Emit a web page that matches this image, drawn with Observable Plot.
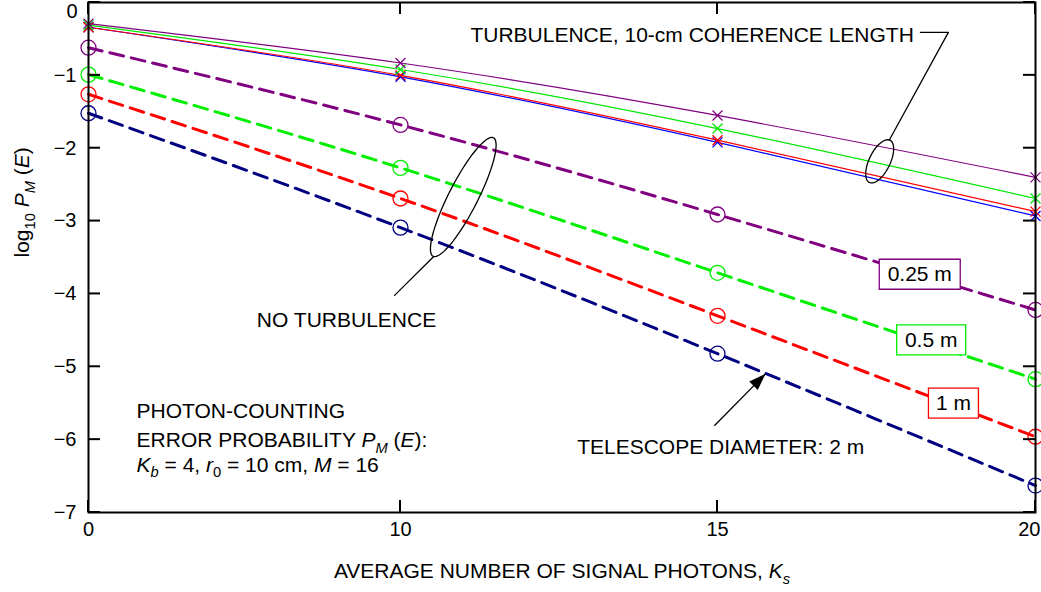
<!DOCTYPE html>
<html>
<head>
<meta charset="utf-8">
<script src="https://cdn.jsdelivr.net/npm/d3@7"></script>
<script src="https://cdn.jsdelivr.net/npm/@observablehq/plot@0.6"></script>
<style>
  html, body { margin: 0; padding: 0; background: #fff; }
  #chart svg { display: block; }
</style>
</head>
<body>
<div id="chart"></div>
<script>
// Average number of signal photons K_s (plotted at uneven spacing, as in the original figure)
const ks = [0, 10, 15, 20];
const xTicks = [0, 10, 15, 20];
const yTicks = [0, -1, -2, -3, -4, -5, -6, -7];
const diameters = ["0.25 m", "0.5 m", "1 m", "2 m"];

// log10 P_M(E) with turbulence (10-cm coherence length) — solid lines, × markers
const turb025 = [-0.29, -0.83, -1.55, -2.40];
const turb05  = [-0.31, -0.92, -1.73, -2.69];
const turb1   = [-0.34, -1.00, -1.89, -2.87];
const turb2   = [-0.34, -1.02, -1.92, -2.93];

// log10 P_M(E) without turbulence — dashed lines, ○ markers
const clear025 = [-0.62, -1.68, -2.91, -4.22];
const clear05  = [-0.99, -2.27, -3.71, -5.17];
const clear1   = [-1.26, -2.69, -4.30, -5.96];
const clear2   = [-1.52, -3.09, -4.82, -6.63];

// line colours per diameter
const turbColors  = ["#800080", "#00e600", "#ff0000", "#0000ff"];
const clearColors = ["#800080", "#00ee00", "#ff0000", "#000080"];

const rows = (vals, d) => ks.map((k, i) => ({ks: k, logP: vals[i], diameter: d}));
const turbSeries  = [turb025, turb05, turb1, turb2].map((v, i) => rows(v, diameters[i]));
const clearSeries = [clear025, clear05, clear1, clear2].map((v, i) => rows(v, diameters[i]));

// chart geometry
const W = 1041, H = 592;
const M = {left: 88, right: 6, top: 2, bottom: 80};
const TICK = 12; // inward tick length, px

// custom marker shapes (pixel sized, independent of r)
const timesSymbol = {draw(ctx) { ctx.moveTo(-5, -5); ctx.lineTo(5, 5); ctx.moveTo(5, -5); ctx.lineTo(-5, 5); }};
const ellipseSymbol = (a, b, tiltDeg) => ({
  draw(ctx) {
    const t = tiltDeg * Math.PI / 180, n = 96;
    for (let i = 0; i <= n; i++) {
      const u = 2 * Math.PI * i / n;
      const ex = b * Math.cos(u), ey = a * Math.sin(u);
      const px = ex * Math.cos(t) - ey * Math.sin(t);
      const py = ex * Math.sin(t) + ey * Math.cos(t);
      if (i === 0) ctx.moveTo(px, py); else ctx.lineTo(px, py);
    }
    ctx.closePath();
  }
});
const boxSymbol = (w, h) => ({
  draw(ctx) { ctx.moveTo(-w / 2, -h / 2); ctx.lineTo(w / 2, -h / 2); ctx.lineTo(w / 2, h / 2); ctx.lineTo(-w / 2, h / 2); ctx.closePath(); }
});
const arrowHead = {draw(ctx) { ctx.moveTo(0, 0); ctx.lineTo(-6, 17); ctx.lineTo(6, 17); ctx.closePath(); }};

// annotations (data units: K_s, log10 P)
const diamLabels = [
  {text: "0.25 m", x: 18.18, y: -3.73, w: 81, h: 30, color: "#800080"},
  {text: "0.5 m",  x: 18.36, y: -4.63, w: 69, h: 30, color: "#00ee00"},
  {text: "1 m",    x: 18.71, y: -5.50, w: 50, h: 30, color: "#ff0000"}
];
const turbLeader = [{x: 18.19, y: -0.41}, {x: 18.63, y: -0.41}, {x: 17.70, y: -1.89}];
const noTurbLeader = [{x: 10.52, y: -3.49}, {x: 9.81, y: -4.02}];
const arrowLine = [{x1: 14.95, y1: -5.81, x2: 15.755, y2: -5.096}];
const infoLines = [
  {text: "PHOTON-COUNTING", y: -5.604},
  {text: "ERROR PROBABILITY *P*_[M] (*E*):", y: -6.012},
  {text: "*K*_[b] = 4, *r*_{0} = 10 cm, *M* = 16", y: -6.345}
];

const FONT = 21;
const TICK_FONT = 20;
const fmtY = d => d === 0 ? "0" : "\u2212" + Math.abs(d);
const marks = [];

// no-turbulence curves
clearSeries.forEach((s, i) => {
  marks.push(Plot.line(s, {x: "ks", y: "logP", stroke: clearColors[i], strokeWidth: 3, strokeDasharray: "14,8", curve: "natural"}));
  marks.push(Plot.dot(s, {x: "ks", y: "logP", r: 7.5, stroke: clearColors[i], strokeWidth: 1.3, fill: "none"}));
});
// turbulence curves
[3, 2, 1, 0].forEach(i => {
  const s = turbSeries[i];
  marks.push(Plot.line(s, {x: "ks", y: "logP", stroke: turbColors[i], strokeWidth: 1.2, curve: "natural"}));
  marks.push(Plot.dot(s, {x: "ks", y: "logP", symbol: timesSymbol, stroke: turbColors[i], strokeWidth: 1.3}));
});

// diameter labels in boxes
diamLabels.forEach(d => {
  marks.push(Plot.dot([d], {x: "x", y: "y", symbol: boxSymbol(d.w, d.h), fill: "white", stroke: d.color, strokeWidth: 1.3}));
});
marks.push(Plot.text(diamLabels, {x: "x", y: "y", text: "text", fontSize: FONT, fill: "black"}));

// turbulence note
marks.push(Plot.text(["TURBULENCE, 10-cm COHERENCE LENGTH"], {x: 14.6, y: -0.453, text: d => d, fontSize: FONT}));
marks.push(Plot.line(turbLeader, {x: "x", y: "y", stroke: "black", strokeWidth: 1.3}));
marks.push(Plot.dot([{x: 17.55, y: -2.18}], {x: "x", y: "y", symbol: ellipseSymbol(23.5, 10.5, 26), stroke: "black", strokeWidth: 1.3, fill: "none"}));

// no-turbulence note
marks.push(Plot.dot([{x: 10.99, y: -2.67}], {x: "x", y: "y", symbol: ellipseSymbol(66.5, 14.5, 27), stroke: "black", strokeWidth: 1.3, fill: "none"}));
marks.push(Plot.line(noTurbLeader, {x: "x", y: "y", stroke: "black", strokeWidth: 1.3}));
marks.push(Plot.text(["NO TURBULENCE"], {x: 8.27, y: -4.365, text: d => d, fontSize: FONT}));

// telescope diameter arrow
marks.push(Plot.link(arrowLine, {x1: "x1", y1: "y1", x2: "x2", y2: "y2", stroke: "black", strokeWidth: 1.3}));
marks.push(Plot.dot(arrowLine, {x: "x2", y: "y2", symbol: arrowHead, rotate: 45, fill: "black", stroke: "none"}));
marks.push(Plot.text(["TELESCOPE DIAMETER: 2 m"], {x: 15.05, y: -6.11, text: d => d, fontSize: FONT}));

// parameter block
marks.push(Plot.text(infoLines, {x: 1.54, y: "y", text: "text", textAnchor: "start", fontSize: FONT}));

// axis titles
marks.push(Plot.text(["AVERAGE NUMBER OF SIGNAL PHOTONS, *K*_[s]"], {frameAnchor: "bottom", dy: 59, text: d => d, fontSize: FONT, lineAnchor: "middle"}));
marks.push(Plot.text(["log_{10} *P*_[M] (*E*)"], {frameAnchor: "left", dx: -66, rotate: -90, text: d => d, fontSize: FONT, lineAnchor: "middle"}));

// frame
marks.push(Plot.frame({stroke: "black", strokeWidth: 2}));
// tick labels
marks.push(Plot.text(yTicks.filter(d => d !== 0), {y: d => d, frameAnchor: "left", text: fmtY, textAnchor: "end", dx: -12, fontSize: TICK_FONT}));
marks.push(Plot.text([0], {y: d => d, frameAnchor: "left", text: fmtY, textAnchor: "end", dx: -11, lineAnchor: "top", dy: 1, fontSize: TICK_FONT}));
marks.push(Plot.text(xTicks.filter(d => d !== 20), {x: d => d, frameAnchor: "bottom", text: d => String(d), dy: 23, fontSize: TICK_FONT}));
marks.push(Plot.text([20], {x: d => d, frameAnchor: "bottom", text: d => String(d), textAnchor: "end", dx: 5, dy: 23, fontSize: TICK_FONT}));

const chart = Plot.plot({
  width: W,
  height: H,
  marginLeft: M.left,
  marginRight: M.right,
  marginTop: M.top,
  marginBottom: M.bottom,
  style: {fontFamily: "'Liberation Sans', Arial, Helvetica, sans-serif", fontSize: "20px", background: "white", color: "black"},
  x: {type: "linear", domain: [0, 10, 15, 20], range: [M.left, 400, 717, W - M.right], axis: null},
  y: {type: "linear", domain: [-7, 0], axis: null},
  marks
});

// inward ticks on all four sides, placed with the plot's own scales
const sx = chart.scale("x"), sy = chart.scale("y");
const ticksG = d3.select(chart).append("g")
  .attr("stroke", "#000").attr("stroke-width", 2).attr("fill", "none");
const L = M.left, R = W - M.right, T = M.top, B = H - M.bottom;
yTicks.forEach(v => {
  const y = sy.apply(v);
  ticksG.append("path").attr("d", `M${L},${y}h${TICK}`);
  ticksG.append("path").attr("d", `M${R},${y}h${-TICK}`);
});
xTicks.forEach(v => {
  const x = sx.apply(v);
  ticksG.append("path").attr("d", `M${x},${B}v${-TICK}`);
  ticksG.append("path").attr("d", `M${x},${T}v${TICK}`);
});

// turn *italic*, _{sub} and _[italic sub] markup into tspans
function richText(svg) {
  svg.querySelectorAll("text").forEach(t => {
    const s = t.textContent;
    if (!/\*|_\{|_\[/.test(s)) return;
    const parts = s.split(/(\*[^*]+\*|_\{[^}]*\}|_\[[^\]]*\])/).filter(p => p);
    t.textContent = "";
    let shifted = false;
    for (const p of parts) {
      const ts = document.createElementNS("http://www.w3.org/2000/svg", "tspan");
      let str = p, sub = false, ital = false;
      if (p.startsWith("*")) { str = p.slice(1, -1); ital = true; }
      else if (p.startsWith("_{")) { str = p.slice(2, -1); sub = true; }
      else if (p.startsWith("_[")) { str = p.slice(2, -1); sub = true; ital = true; }
      if (sub) { ts.setAttribute("font-size", "70%"); ts.setAttribute("dy", "0.36em"); shifted = true; }
      else if (shifted) { ts.setAttribute("dy", "-0.25em"); shifted = false; }
      if (ital) ts.setAttribute("font-style", "italic");
      ts.textContent = str;
      t.appendChild(ts);
    }
  });
}
richText(chart);
document.getElementById("chart").appendChild(chart);
</script>
</body>
</html>
